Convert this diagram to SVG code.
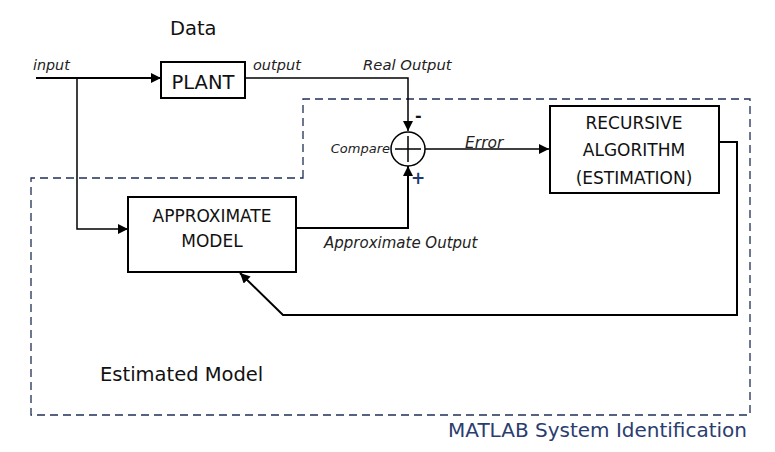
<svg xmlns="http://www.w3.org/2000/svg" width="775" height="452" viewBox="0 0 775 452">
<style>
.box{fill:#fff;stroke:#000;stroke-width:2}
.ln{fill:none;stroke:#000;stroke-width:1.5}
.lb{fill:none;stroke:#000;stroke-width:2}
.t{font-family:"DejaVu Sans",Verdana,sans-serif;fill:#111}
.it{font-family:"DejaVu Sans",Verdana,sans-serif;font-style:italic;fill:#222}
.bt{font-family:"DejaVu Sans",Verdana,sans-serif;fill:#111;text-anchor:middle}
</style>
<defs>
<marker id="ah" viewBox="0 0 10 10" refX="10" refY="5" markerWidth="10" markerHeight="10" markerUnits="userSpaceOnUse" orient="auto">
<path d="M0,0 L10,5 L0,10 z" fill="#000"/>
</marker>
</defs>
<rect width="775" height="452" fill="#fff"/>
<g id="boundary">
<path d="M303,178 L303,99 L750,99 L750,415 L31,415 L31,178 Z" fill="none" stroke="#1f2f55" stroke-width="1.3" stroke-dasharray="8,5"/>
</g>
<g id="connectors">
<path class="lb" d="M36,78 L161,78" marker-end="url(#ah)"/>
<path class="ln" d="M77,78 L77,229 L128,229" marker-end="url(#ah)"/>
<path class="ln" d="M245,78 L408,78 L408,131" marker-end="url(#ah)"/>
<path class="lb" d="M296,228 L408,228 L408,166" marker-end="url(#ah)"/>
<path class="ln" d="M425,149 L549,149" marker-end="url(#ah)"/>
<path class="lb" d="M719,142 L737,142 L737,315 L283,315 L240,273" marker-end="url(#ah)"/>
</g>
<g id="plant">
<rect class="box" x="161" y="62" width="84" height="36"/>
<text class="t" x="203" y="89" font-size="19.5" text-anchor="middle">PLANT</text>
</g>
<g id="compare">
<circle cx="408" cy="149" r="17" fill="#fff" stroke="#000" stroke-width="1.5"/>
<path class="ln" d="M395,149 L421,149 M408,136 L408,162"/>
<text class="it" x="390" y="153" font-size="13" text-anchor="end">Compare</text>
<text class="t" x="415" y="121" font-size="16" font-weight="bold">-</text>
<text class="t" x="411" y="184" font-size="17" font-weight="bold" style="fill:#1e3a6e">+</text>
</g>
<g id="recursive">
<rect class="box" x="550" y="106" width="169" height="87"/>
<text class="bt" x="634" y="129" font-size="17">RECURSIVE</text>
<text class="bt" x="634" y="156" font-size="17">ALGORITHM</text>
<text class="bt" x="634" y="184" font-size="17">(ESTIMATION)</text>
</g>
<g id="approx">
<rect class="box" x="128" y="197" width="168" height="75"/>
<text class="bt" x="212" y="222" font-size="17">APPROXIMATE</text>
<text class="bt" x="212" y="247" font-size="17">MODEL</text>
</g>
<g id="labels">
<text class="t" x="170" y="35" font-size="19.5">Data</text>
<text class="it" x="33" y="70" font-size="14.3">input</text>
<text class="it" x="253" y="70" font-size="14.5">output</text>
<text class="it" x="363" y="70" font-size="14.8">Real Output</text>
<text class="it" x="465" y="148" font-size="15.5">Error</text>
<text class="it" x="324" y="248" font-size="15">Approximate Output</text>
<text class="t" x="100" y="381" font-size="19.5">Estimated Model</text>
<text class="t" x="448" y="437" font-size="20" style="fill:#2a3d6e">MATLAB System Identification</text>
</g>
</svg>
